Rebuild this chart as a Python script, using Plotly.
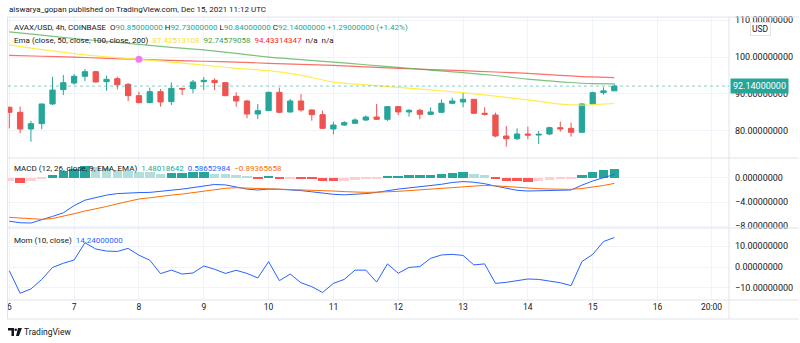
import pandas as pd
import plotly.graph_objects as go
from plotly.subplots import make_subplots

# ---------------------------------------------------------------- data
# AVAX/USD 4h candles (Coinbase), Dec 6 00:00 -> Dec 15 08:00 UTC
bar_times = pd.date_range("2021-12-06 00:00", periods=57, freq="4h")

opens = [86.40, 85.05, 80.54, 81.98, 87.30, 91.17, 92.97, 94.78, 96.03, 93.33,
         94.14, 92.61, 89.55, 87.66, 90.63, 87.93, 91.53, 91.44, 93.33, 93.69,
         93.06, 89.37, 88.11, 84.59, 85.50, 90.45, 85.14, 88.11, 85.68, 84.41,
         80.54, 81.62, 82.07, 82.97, 83.78, 83.15, 86.58, 85.14, 85.59, 84.50,
         85.05, 87.48, 87.84, 88.56, 84.78, 84.32, 78.65, 77.90, 79.19, 78.90,
         79.19, 80.90, 80.72, 79.64, 87.30, 90.36, 90.85]
highs = [86.60, 86.60, 82.70, 87.40, 94.68, 95.14, 95.41, 96.76, 96.31, 94.95,
         94.68, 92.97, 90.63, 91.71, 91.35, 93.15, 91.60, 93.78, 94.59, 94.24,
         93.24, 90.45, 88.38, 87.30, 90.63, 91.71, 88.65, 90.00, 85.86, 85.50,
         82.52, 82.70, 83.42, 84.23, 87.30, 86.76, 86.76, 85.86, 86.00, 86.40,
         88.56, 89.01, 90.36, 88.60, 86.40, 84.96, 81.35, 80.72, 81.17, 80.00,
         81.17, 82.52, 82.25, 87.48, 90.63, 91.80, 92.73]
lows = [80.70, 79.40, 77.10, 80.50, 87.03, 89.73, 92.52, 93.51, 93.15, 90.90,
        91.26, 88.11, 87.50, 87.50, 86.58, 87.03, 89.73, 90.18, 91.08, 91.08,
        89.40, 86.58, 83.42, 83.24, 85.40, 84.78, 84.96, 85.23, 82.79, 80.54,
        79.10, 81.35, 81.90, 82.70, 82.97, 82.70, 84.32, 83.87, 83.15, 84.30,
        84.78, 87.20, 86.40, 84.60, 84.20, 78.29, 75.77, 77.57, 77.75, 76.49,
        78.90, 79.82, 78.47, 79.55, 87.03, 89.80, 90.84]
closes = [85.05, 80.54, 81.98, 87.30, 91.08, 93.06, 94.78, 96.03, 93.24, 93.96,
          92.52, 89.55, 87.66, 90.63, 87.84, 91.53, 91.35, 93.24, 93.69, 93.06,
          89.55, 88.11, 84.59, 85.50, 90.45, 85.05, 88.11, 85.68, 84.41, 80.72,
          81.62, 82.25, 82.97, 83.78, 83.15, 86.58, 85.14, 85.59, 84.50, 85.14,
          87.48, 88.11, 88.56, 84.78, 84.50, 78.65, 77.90, 79.19, 78.90, 79.10,
          80.90, 80.54, 79.64, 87.30, 90.36, 90.85, 92.14]

# EMA lines, sampled at these bar indices
ema_idx = [0, 3, 6, 9, 12, 15, 18, 21, 24, 27, 30, 33, 36, 39, 42, 45, 48, 51, 53, 54, 56]
ema50 = [103.30, 102.00, 100.90, 100.05, 99.38, 98.60, 97.80, 96.95, 96.30, 95.10,
         93.20, 92.45, 91.80, 91.10, 90.35, 89.40, 88.40, 87.25, 87.00, 87.10, 87.42513108]
ema100 = [106.80, 105.90, 105.00, 104.20, 103.40, 102.60, 101.90, 101.00, 99.95, 99.30,
          98.60, 97.90, 97.20, 96.45, 95.75, 95.00, 94.00, 93.30, 92.90, 92.80, 92.74579058]
ema200 = [100.46, 100.20, 99.95, 99.65, 99.38, 99.10, 98.85, 98.60, 98.30, 98.00,
          97.75, 97.35, 96.95, 96.60, 96.30, 95.95, 95.55, 95.05, 94.70, 94.60, 94.43314347]
cross_idx = 12          # EMA 50 crossing under EMA 200
cross_value = 99.38

# MACD (12, 26, 9)
macd_line = [-7.20, -7.45, -7.50, -7.00, -6.40, -5.80, -4.60, -3.70, -3.30, -2.85,
             -2.60, -2.48, -2.43, -2.40, -2.25, -2.05, -1.85, -1.60, -1.30, -1.08,
             -1.15, -1.45, -1.85, -2.00, -1.85, -1.88, -1.95, -2.10, -2.30, -2.55,
             -2.72, -2.80, -2.75, -2.60, -2.40, -2.10, -1.85, -1.65, -1.45, -1.30,
             -1.05, -0.75, -0.60, -0.70, -0.95, -1.35, -1.75, -2.05, -2.17, -2.12,
             -2.06, -2.03, -2.00, -1.20, -0.50, 0.05, 0.58652984]
signal_line = [-6.56, -6.68, -6.80, -6.88, -6.75, -6.40, -5.95, -5.50, -5.15, -4.75,
               -4.30, -3.85, -3.50, -3.30, -3.05, -2.85, -2.68, -2.45, -2.20, -1.95,
               -1.72, -1.62, -1.68, -1.72, -1.76, -1.80, -1.84, -1.90, -1.97, -2.07,
               -2.17, -2.27, -2.35, -2.39, -2.36, -2.32, -2.22, -2.10, -1.96, -1.84,
               -1.70, -1.55, -1.40, -1.27, -1.23, -1.30, -1.45, -1.60, -1.70, -1.78,
               -1.83, -1.87, -1.89, -1.75, -1.55, -1.25, -0.89365658]
macd_hist = [-0.50, -0.78, -0.50, -0.05, 0.56, 1.10, 1.50, 2.00, 1.80, 1.60,
             1.40, 1.20, 1.05, 0.95, 0.72, 0.83, 0.90, 1.00, 1.05, 0.67,
             0.62, 0.44, 0.17, -0.17, 0.17, -0.10, -0.08, -0.22, -0.25, -0.50,
             -0.55, -0.44, -0.33, -0.22, -0.17, 0.22, 0.39, 0.50, 0.52, 0.56,
             0.67, 0.78, 1.00, 0.67, 0.44, -0.10, -0.44, -0.47, -0.61, -0.44,
             -0.28, -0.17, -0.10, 0.50, 1.00, 1.33, 1.48018642]

# Momentum (10, close)
momentum = [-1.8, -12.7, -10.6, -6.0, -0.2, 1.8, 3.4, 11.7, 8.7, 7.7,
            7.5, 9.0, 5.7, 3.3, -3.2, -1.5, -3.4, -2.9, 0.5, -1.1,
            -3.1, -1.6, -3.1, -5.3, 2.6, -6.6, -3.4, -7.6, -9.5, -12.3,
            -7.9, -6.0, -1.5, -1.5, -7.3, 1.5, -3.0, -0.2, 0.2, 4.2,
            5.8, 6.1, 5.6, 1.0, 1.5, -7.9, -7.4, -6.6, -5.8, -6.0,
            -6.8, -7.6, -9.0, 2.6, 6.1, 12.3, 14.24]

# time axis
tick_times = pd.to_datetime(["2021-12-06 00:00", "2021-12-07 00:00", "2021-12-08 00:00",
                             "2021-12-09 00:00", "2021-12-10 00:00", "2021-12-11 00:00",
                             "2021-12-12 00:00", "2021-12-13 00:00", "2021-12-14 00:00",
                             "2021-12-15 00:00", "2021-12-16 00:00", "2021-12-16 20:00"],
                            format="%Y-%m-%d %H:%M")
tick_text = ["6", "7", "8", "9", "10", "11", "12", "13", "14", "15", "16", "20:00"]
x_range = ["2021-12-05 23:31", "2021-12-17 02:28"]

price_ticks = [80, 90, 100, 110]
macd_ticks = [-8, -4, 0]
mom_ticks = [-10, 0, 10]

# ---------------------------------------------------------------- style
W, H = 800, 343
ML, MR, MT, MB = 7, 70, 17, 43
UP, DN = "#26A69A", "#EF5350"
TEXT = "#131722"
GRID = "#F0F3FA"
BORDER = "#E0E3EB"
FONT = "Roboto"
GAP = "\u00a0\u00a0"
GAP1 = "\u00a0"


def px(x):
    return (x - ML) / (W - ML - MR)


def py(y):
    return (H - MB - y) / (H - MT - MB)


fig = make_subplots(rows=3, cols=1, shared_xaxes=True, vertical_spacing=0)

# price pane
fig.add_trace(go.Candlestick(
    x=bar_times, open=opens, high=highs, low=lows, close=closes,
    increasing=dict(line=dict(color=UP, width=1), fillcolor=UP),
    decreasing=dict(line=dict(color=DN, width=1), fillcolor=DN),
    whiskerwidth=0, hoverinfo="skip"), row=1, col=1)

ema_times = bar_times[ema_idx]
for vals, col in ((ema200, "rgba(244,67,54,0.75)"),
                  (ema100, "rgba(76,175,80,0.75)"),
                  (ema50, "rgba(255,235,59,0.9)")):
    fig.add_trace(go.Scatter(x=ema_times, y=vals, mode="lines",
                             line=dict(color=col, width=1.2, shape="spline", smoothing=0.6),
                             hoverinfo="skip"), row=1, col=1)

fig.add_trace(go.Scatter(x=[bar_times[cross_idx]], y=[cross_value], mode="markers",
                         marker=dict(size=7, color="#F47AF4"), hoverinfo="skip"),
              row=1, col=1)

# MACD pane
hist_colors = []
for i, v in enumerate(macd_hist):
    prev = macd_hist[i - 1] if i > 0 else float("-inf")
    if v >= 0:
        hist_colors.append("#26A69A" if v > prev else "#B2DFDB")
    else:
        hist_colors.append("#FFCDD2" if v > prev else "#FF5252")
fig.add_trace(go.Bar(x=bar_times, y=macd_hist, marker=dict(color=hist_colors, line=dict(width=0)),
                     width=4 * 3600 * 1000 * 0.88, hoverinfo="skip"), row=2, col=1)
fig.add_trace(go.Scatter(x=bar_times, y=macd_line, mode="lines",
                         line=dict(color="#2962FF", width=1), hoverinfo="skip"), row=2, col=1)
fig.add_trace(go.Scatter(x=bar_times, y=signal_line, mode="lines",
                         line=dict(color="#FF6D00", width=1), hoverinfo="skip"), row=2, col=1)

# momentum pane
fig.add_trace(go.Scatter(x=bar_times, y=momentum, mode="lines",
                         line=dict(color="#2962FF", width=1), hoverinfo="skip"), row=3, col=1)

# ---------------------------------------------------------------- axes
fig.update_layout(
    width=W, height=H, margin=dict(l=ML, r=MR, t=MT, b=MB),
    paper_bgcolor="white", plot_bgcolor="white", showlegend=False,
    font=dict(family=FONT, size=9, color=TEXT), bargap=0,
)
fig.update_xaxes(type="date", range=x_range, tickvals=tick_times, ticktext=tick_text,
                 showgrid=True, gridcolor=GRID, gridwidth=1, zeroline=False,
                 showline=False, ticks="", rangeslider_visible=False,
                 tickfont=dict(family=FONT, size=8.5, color=TEXT))

fig.update_yaxes(domain=[py(158), py(MT)], row=1, col=1,
                 range=[72.70, 110.81], tickvals=price_ticks)
fig.update_yaxes(domain=[py(228), py(158)], row=2, col=1,
                 range=[-8.33, 3.33], tickvals=macd_ticks)
fig.update_yaxes(domain=[0, py(228)], row=3, col=1,
                 range=[-15.94, 18.84], tickvals=mom_ticks)
fig.update_yaxes(side="right", tickformat=".8f", showgrid=True, gridcolor=GRID,
                 zeroline=False, showline=False, ticks="", ticklabelstandoff=5,
                 tickfont=dict(family=FONT, size=9, color=TEXT))

# ---------------------------------------------------------------- frame
shapes = []
right_edge = px(W)
for yy in (MT, 158, 228, 300, 319):
    shapes.append(dict(type="line", xref="paper", yref="paper", x0=px(6.5), x1=right_edge,
                       y0=py(yy), y1=py(yy), line=dict(color=BORDER, width=1)))
shapes.append(dict(type="line", xref="paper", yref="paper", x0=1, x1=1,
                   y0=py(319), y1=py(MT), line=dict(color=BORDER, width=1)))
shapes.append(dict(type="line", xref="paper", yref="paper", x0=px(6.5), x1=px(6.5),
                   y0=py(319), y1=py(MT), line=dict(color=BORDER, width=1)))
# last price line
shapes.append(dict(type="line", xref="paper", yref="y", x0=0, x1=1,
                   y0=closes[-1], y1=closes[-1],
                   line=dict(color="rgba(38,166,154,0.55)", width=1, dash="dot")))
# TradingView logo
logo = "M {a} {b} L {c} {b} L {c} {d} L {e} {d} L {e} {f} L {a} {f} Z".format(
    a=px(7), c=px(13), e=px(10.5), b=py(328), d=py(336), f=py(330.5))
shapes.append(dict(type="path", xref="paper", yref="paper", path=logo,
                   fillcolor=TEXT, line=dict(width=0)))
shapes.append(dict(type="circle", xref="paper", yref="paper",
                   x0=px(13.5), x1=px(16), y0=py(331), y1=py(328.5),
                   fillcolor=TEXT, line=dict(width=0)))
slash = "M {a} {b} L {c} {b} L {d} {e} L {f} {e} Z".format(
    a=px(17), c=px(21), b=py(328), d=px(18), e=py(336), f=px(15))
shapes.append(dict(type="path", xref="paper", yref="paper", path=slash,
                   fillcolor=TEXT, line=dict(width=0)))
fig.update_layout(shapes=shapes)

# ---------------------------------------------------------------- texts
def f8(v):
    return "{:.8f}".format(v).replace("-", "\u2212")


chg = closes[-1] - closes[-2]
pct = chg / closes[-2] * 100
teal = "#26A69A"
legend_price = (
    "AVAX/USD, 4h, COINBASE" + GAP +
    f"O<span style='color:{teal}'>{f8(opens[-1])}</span>" + GAP1 +
    f"H<span style='color:{teal}'>{f8(highs[-1])}</span>" + GAP1 +
    f"L<span style='color:{teal}'>{f8(lows[-1])}</span>" + GAP1 +
    f"C<span style='color:{teal}'>{f8(closes[-1])}</span>" + GAP1 +
    f"<span style='color:{teal}'>+{f8(chg)} (+{pct:.2f}%)</span>"
)
legend_ema = (
    "Ema (close, 50, close, 100, close, 200)" + GAP +
    f"<span style='color:#F5E12E'>{f8(ema50[-1])}</span>" + GAP +
    f"<span style='color:#43A047'>{f8(ema100[-1])}</span>" + GAP +
    f"<span style='color:#FF1E1E'>{f8(ema200[-1])}</span>" + GAP + "n/a" + GAP + "n/a"
)
legend_macd = (
    "MACD (12, 26, close, 9, EMA, EMA)" + GAP +
    f"<span style='color:{teal}'>{f8(macd_hist[-1])}</span>" + GAP +
    f"<span style='color:#2962FF'>{f8(macd_line[-1])}</span>" + GAP +
    f"<span style='color:#FF6D00'>{f8(signal_line[-1])}</span>"
)
legend_mom = "Mom (10, close)" + GAP + f"<span style='color:#2962FF'>{f8(momentum[-1])}</span>"

ann = []


def label(text, x, y, size=8, **kw):
    ann.append(dict(text=text, x=px(x), y=py(y), xref="paper", yref="paper",
                    xanchor="left", yanchor="middle", showarrow=False,
                    font=dict(family=FONT, size=size, color=TEXT), **kw))


label("aiswarya_gopan published on TradingView.com, Dec 15, 2021 11:12 UTC", 6, 9, size=8)
label(legend_price, 11, 27)
label(legend_ema, 11, 40)
label(legend_macd, 11, 168)
label(legend_mom, 11, 240)
label("TradingView", 21, 332, size=8.5)

ann.append(dict(text="USD", x=px(762), y=py(29), xref="paper", yref="paper",
                xanchor="center", yanchor="middle", showarrow=False,
                font=dict(family=FONT, size=8.5, color=TEXT),
                bgcolor="white", bordercolor=BORDER, borderwidth=1, borderpad=1))
ann.append(dict(text=f8(closes[-1]), x=px(731), y=closes[-1], xref="paper", yref="y",
                xanchor="left", yanchor="middle", showarrow=False,
                font=dict(family=FONT, size=9, color="white"),
                bgcolor=UP, borderpad=2))
fig.update_layout(annotations=ann)

fig.write_html("out.html")
